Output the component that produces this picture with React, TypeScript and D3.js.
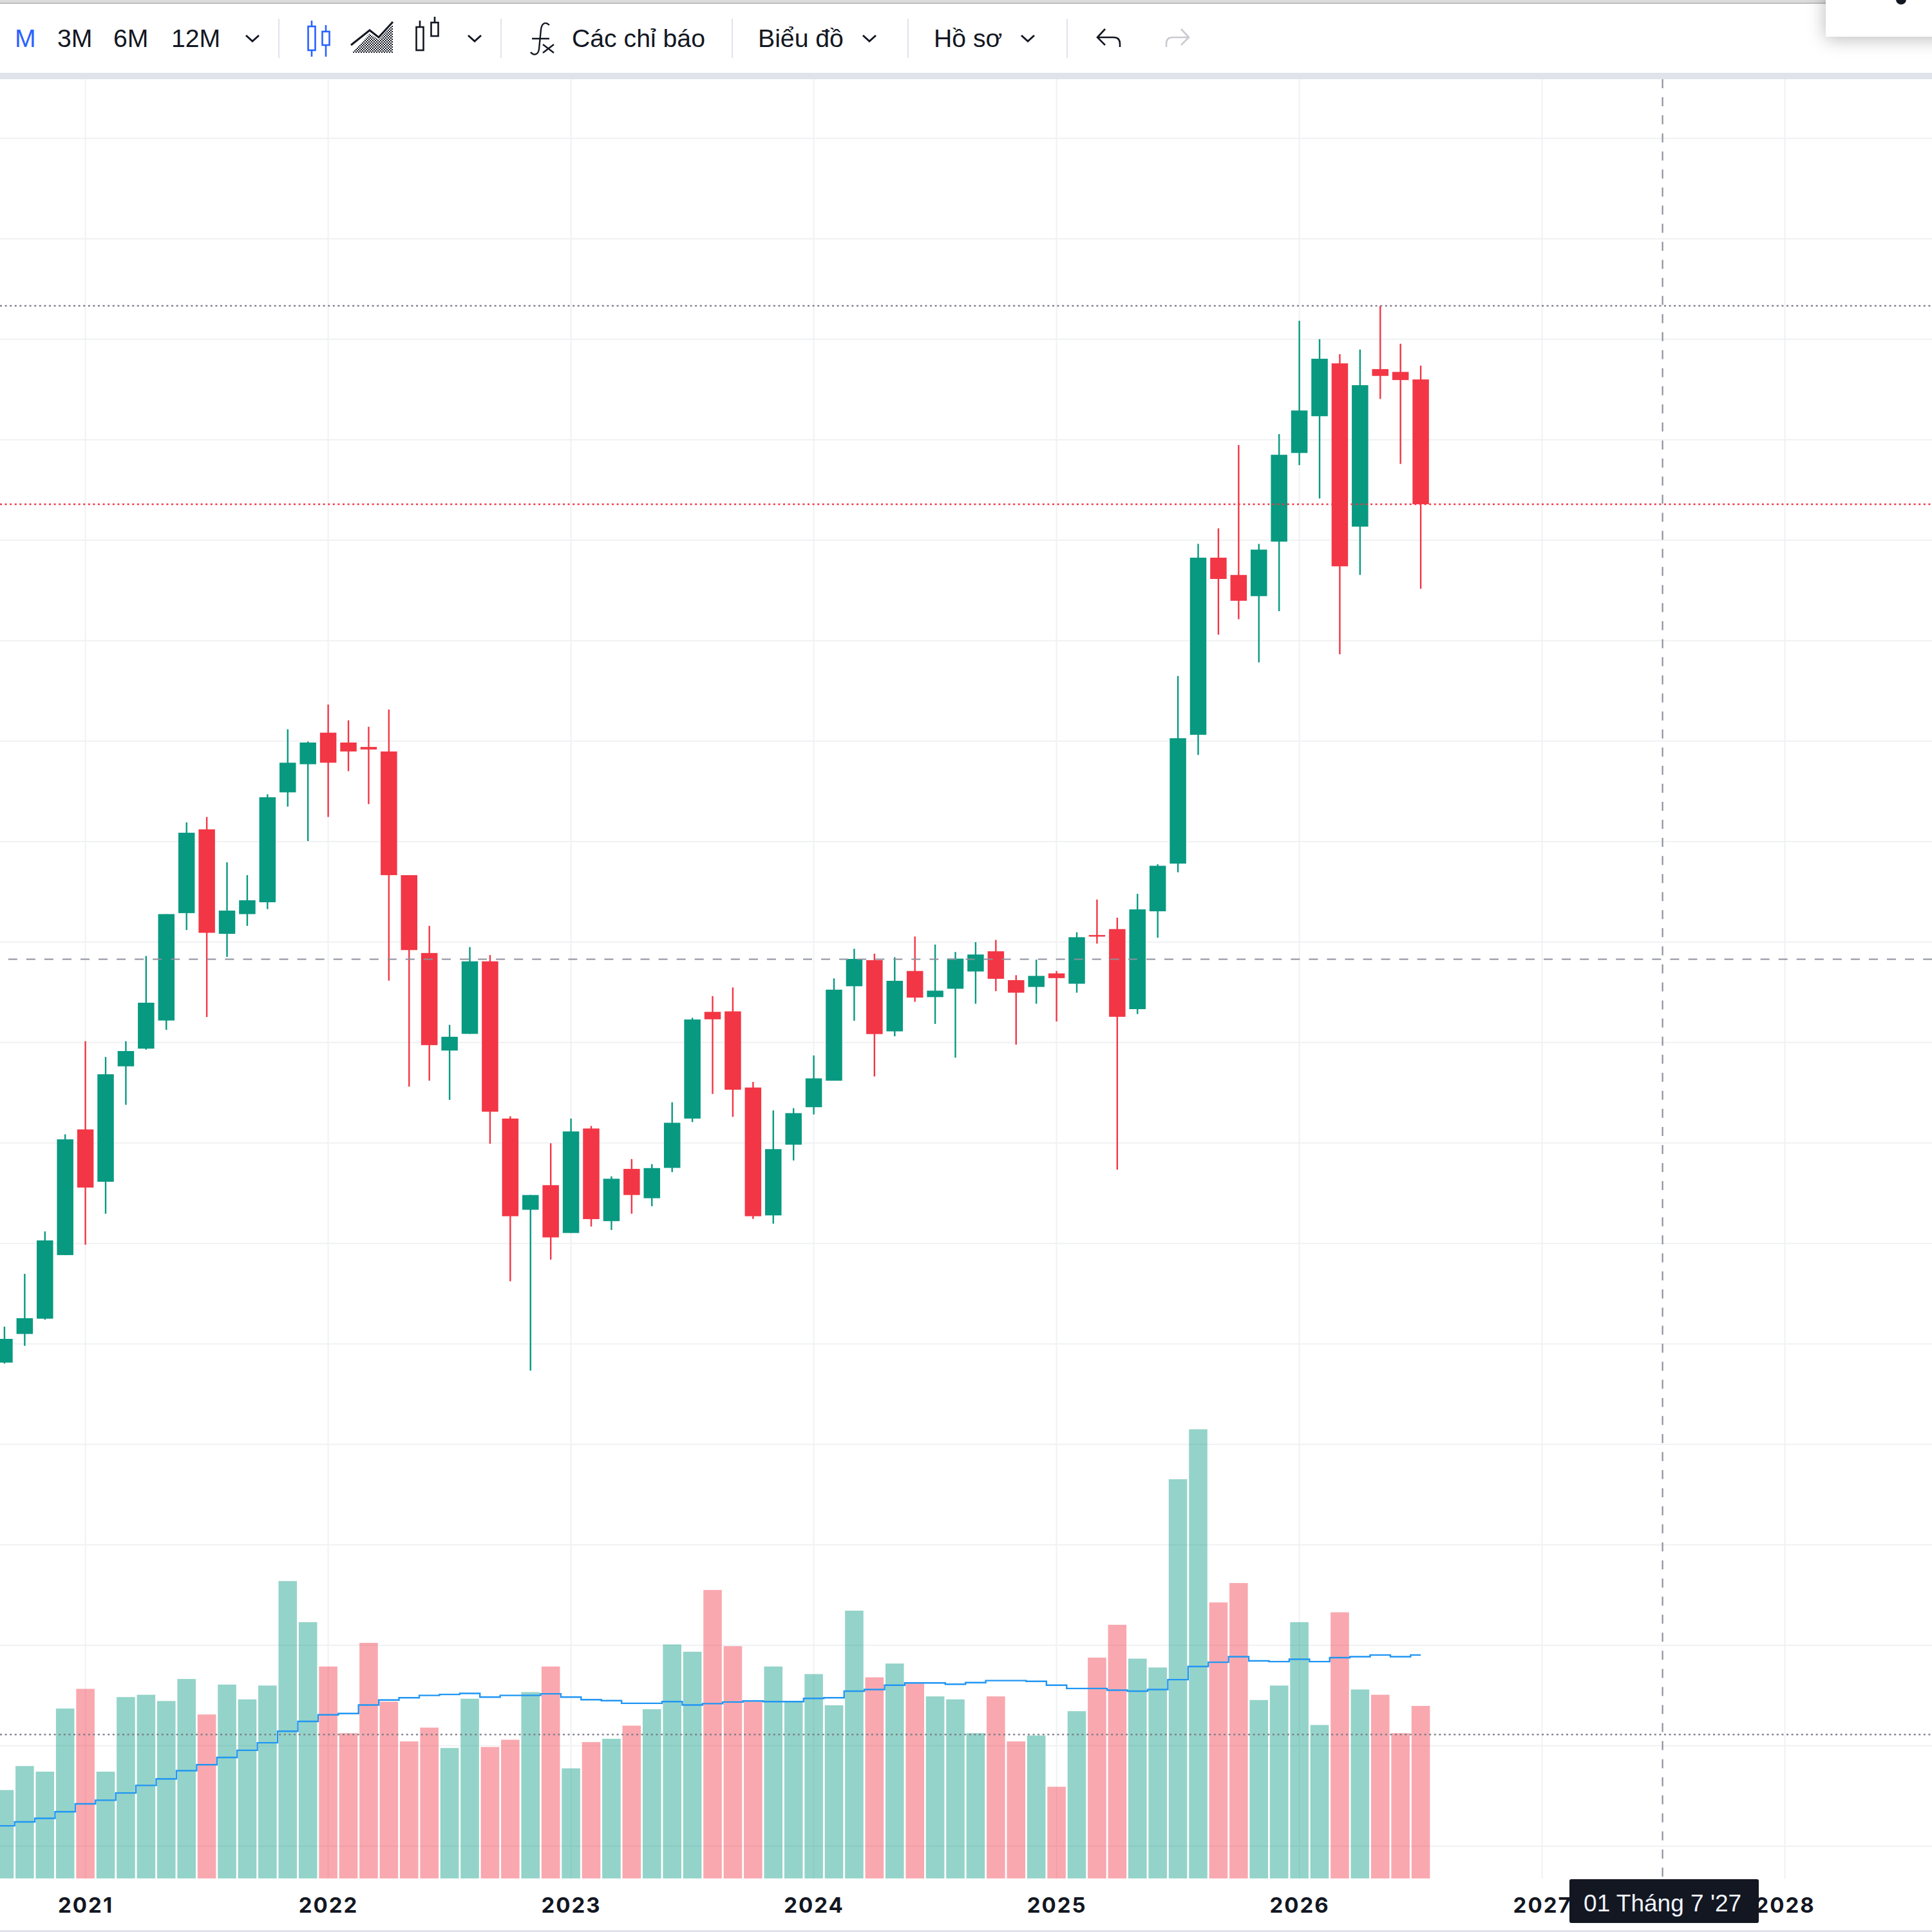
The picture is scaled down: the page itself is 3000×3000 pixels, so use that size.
import { useEffect, useRef } from "react";
import * as d3 from "d3";

// months are counted from Jan 2021 = 0, first bar (Sep 2020) sits just off the left edge
const firstMonth = -5;

const opens = [
  560, 581.4, 609.9, 625.1, 688.4, 813.5, 761.4, 876.3, 893.9, 921.9, 1028.8, 1112.2, 1008.2, 1027.8, 1039.6, 1149, 1177,
  1208.4, 1198.6, 1194.2, 1189.7, 1066.6, 989.1, 892, 908.6, 980.8, 824.3, 733.5, 758,
  710.4, 814.4, 722.2, 774.2, 745, 775.2, 824.3, 930.5, 931, 855.2, 727.9, 798.3,
  835.6, 862, 956, 982, 911.1, 971.2, 945.2, 953.5, 970.7, 990.8, 962.1, 955.3,
  968.8, 958.5, 1007, 1012.9, 933.2, 1030.6, 1078.1, 1206.3, 1382.6, 1365.4, 1344.3, 1398.6,
  1486.8, 1523.4, 1576, 1413.5, 1570.3, 1567.5, 1560,
];
const highs = [
  585, 617.2, 669.7, 711.9, 808.6, 901.3, 885.6, 901.3, 986.1, 1027.8, 1119.1, 1124.5, 1079.4, 1066.6, 1147.1, 1211.8, 1199.6,
  1236.4, 1220.7, 1214.3, 1231.4, 1066.6, 1016.1, 917.5, 995, 987.1, 826.7, 748.2, 799.7,
  824.3, 816.9, 766.8, 784, 778.9, 840.5, 924.6, 946.2, 954.8, 860.8, 832.4, 834.6,
  887.1, 963.8, 993.3, 988.4, 984.9, 1005.5, 997.5, 990.1, 999.9, 1002.1, 967, 982.5,
  971.2, 1009.7, 1042.3, 1024.2, 1048, 1077.4, 1264.7, 1396.3, 1411.8, 1494.8, 1396.3, 1505.7,
  1618.4, 1600.1, 1585.2, 1589.8, 1633.3, 1595.5, 1573.8,
];
const lows = [
  555, 580.4, 598.1, 624.1, 688.4, 698.7, 729.6, 838, 892.9, 912.6, 1012, 925.3, 985.2, 1016.1, 1032.8, 1134.8, 1100.5,
  1124.5, 1170.1, 1137.3, 961.6, 856.1, 862, 842.9, 908.6, 799.2, 662.3, 573.5, 683.9,
  710.4, 716.8, 713.4, 729.6, 737, 771, 820.8, 848.8, 826, 724.4, 719.7, 782.6,
  828.4, 862, 921.7, 866.2, 906.2, 940.5, 918.5, 884.9, 938.6, 951.1, 897.9, 938.6,
  920.9, 949.6, 998.4, 773.5, 928.3, 1004.3, 1069.5, 1186.3, 1305.9, 1321.4, 1278.4, 1329.4,
  1474.7, 1441.5, 1286.4, 1365.4, 1540.6, 1475.9, 1351.7,
];
const closes = [
  580, 605, 625.6, 703, 803.6, 755.6, 868.4, 891.5, 939.6, 1027.8, 1108.8, 1009.2, 1031.3, 1041.6, 1144.1, 1178.5, 1198.6,
  1178.5, 1189.7, 1191.7, 1066.6, 992, 897.4, 905.7, 980.8, 831.1, 727.1, 748.2, 706,
  811.5, 724.2, 764.4, 748.2, 775, 820.1, 922.9, 923.1, 853, 727.1, 793.9, 829.7,
  864.3, 952.6, 983.2, 908.4, 961.4, 944.7, 951.6, 983.5, 987.6, 963.4, 949.6, 966.3,
  964.1, 1004.8, 1006, 925.6, 1032.5, 1075.9, 1202.9, 1382.6, 1361.4, 1339.7, 1390.6, 1485,
  1529.1, 1580.6, 1374, 1554.3, 1563.5, 1559.4, 1435.8,
];
const volumes = [
  240, 269, 342, 325, 517, 577, 325, 552, 559, 540, 607, 499, 590, 545, 587, 905, 780,
  645, 442, 717, 538, 417, 459, 397, 547, 400, 422, 567, 645,
  335, 415, 425, 465, 515, 712, 690, 878, 707, 538, 645, 538,
  622, 527, 815, 612, 654, 593, 554, 545, 442, 554, 417, 435,
  279, 509, 672, 772, 669, 642, 1215, 1367, 840, 899, 543, 587,
  780, 467, 810, 575, 559, 442, 525,
];
const volumeMa = [
  150, 160, 172, 183, 203, 227, 238, 260, 283, 303, 328, 346, 368, 390, 413, 448, 478,
  498, 502, 528, 543, 550, 557, 560, 563, 552, 557, 557, 562,
  552, 544, 541, 533, 533, 538, 528, 532, 537, 540, 538, 538,
  548, 550, 570, 575, 588, 595, 595, 591, 596, 602, 602, 600,
  588, 578, 578, 573, 570, 575, 605, 645, 658, 675, 662, 660,
  667, 660, 672, 675, 680, 675, 680,
];

const years = [2021, 2022, 2023, 2024, 2025, 2026, 2027, 2028];
const priceGrid = d3.range(100, 1801, 100);
const crosshairMonth = 78;
const crosshairPrice = 982.9;
const volumeLevel = 438;

const UP = "#089981";
const DOWN = "#F23645";
const GRID = "#f0f1f3";
const INK = "#131722";
const BLUE = "#2962ff";

const toolbarLabels = [
  { label: "M", x: 23, fill: BLUE },
  { label: "3M", x: 89, fill: INK },
  { label: "6M", x: 176, fill: INK },
  { label: "12M", x: 266, fill: INK },
  { label: "Các chỉ báo", x: 888, fill: INK },
  { label: "Biểu đồ", x: 1177, fill: INK },
  { label: "Hồ sơ", x: 1450, fill: INK },
];
const chevrons = [392, 737, 1350, 1596];
const separators = [433, 778, 1137, 1410, 1657];

function Chevron({ x }: { x: number }) {
  return <path d={`M${x - 10} 55L${x} 64L${x + 10} 55`} fill="none" stroke={INK} strokeWidth={3} />;
}

function CandleIcon({ x, wick, body, color }: { x: number; wick: number[]; body: number[]; color: string }) {
  return (
    <g stroke={color} strokeWidth={2.6} fill="none">
      <path d={`M${x} ${wick[0]}V${body[0]}M${x} ${body[1]}V${wick[1]}`} />
      <rect x={x - 5.5} y={body[0]} width={11} height={body[1] - body[0]} fill="#fff" />
    </g>
  );
}

function Toolbar() {
  return (
    <g fontFamily="'Liberation Sans', Arial, sans-serif" fontSize={39.2}>
      <rect x={0} y={0} width={3000} height={5} fill="#dcdcdc" />
      <rect x={0} y={4} width={3000} height={2} fill="#bdbdbd" />
      <rect x={0} y={113} width={3000} height={10} fill="#e0e3eb" />
      <defs>
        <pattern id="hatch" width={4} height={4} patternUnits="userSpaceOnUse">
          <rect width={2} height={2} fill={INK} />
          <rect x={2} y={2} width={2} height={2} fill={INK} />
        </pattern>
        <filter id="popup-shadow" x="-30%" y="-50%" width="160%" height="250%">
          <feDropShadow dx={0} dy={3} stdDeviation={14} floodColor="#000" floodOpacity={0.28} />
        </filter>
      </defs>
      {toolbarLabels.map((d) => (
        <text key={d.label} x={d.x} y={73} fill={d.fill}>{d.label}</text>
      ))}
      {chevrons.map((x) => <Chevron key={x} x={x} />)}
      {separators.map((x) => (
        <line key={x} x1={x} x2={x} y1={29} y2={90} stroke="#e0e3eb" strokeWidth={2} />
      ))}

      <CandleIcon x={484} wick={[32, 88]} body={[41, 78]} color={BLUE} />
      <CandleIcon x={506} wick={[39, 88]} body={[49, 70]} color={BLUE} />

      <path d="M547 82L574 52L588 62L610 38V82Z" fill="url(#hatch)" />
      <path d="M545 70L574 47L588 58L610 34" fill="none" stroke={INK} strokeWidth={3} />

      <CandleIcon x={652} wick={[32, 79]} body={[42, 78]} color={INK} />
      <CandleIcon x={675} wick={[26, 57]} body={[35, 56]} color={INK} />

      <path
        d="M853 39C847 33 841 36 840 46L837 76C836 85 829 87 824 81M826 60H853M843 69L860 82M860 69L843 82"
        fill="none"
        stroke={INK}
        strokeWidth={2.4}
      />

      <path d="M1716 45L1704 58L1716 70M1704 58H1729C1736 58 1739 62 1739 68V73" fill="none" stroke={INK} strokeWidth={2.6} />
      <path d="M1834 45L1846 58L1834 70M1846 58H1821C1814 58 1811 62 1811 68V73" fill="none" stroke="#c9cbd0" strokeWidth={2.6} />

      <rect x={2835} y={-20} width={200} height={77} fill="#fff" filter="url(#popup-shadow)" />
      <ellipse cx={2952} cy={-1} rx={8} ry={8} fill={INK} />
    </g>
  );
}

export default function App() {
  const chartRef = useRef<SVGGElement | null>(null);

  useEffect(() => {
    const g = d3.select(chartRef.current);
    g.selectAll("*").remove();

    const months = d3.range(firstMonth, firstMonth + closes.length);
    const rows = months.map((month, i) => ({
      month,
      open: opens[i],
      high: highs[i],
      low: lows[i],
      close: closes[i],
      volume: volumes[i],
      ma: volumeMa[i],
    }));

    const x = d3.scaleLinear().domain([0, 84]).range([132.6, 2771.6]);
    const y = d3.scaleLinear().domain([100, 1800]).range([2866.8, 214.8]);
    const yVol = d3.scaleLinear().domain([0, 1405]).range([2916.8, 2200]);
    const bodyW = 25.5;
    const volW = 28.6;
    const color = (d: any) => (d.close >= d.open ? UP : DOWN);

    // grid
    g.append("g")
      .selectAll("line")
      .data(priceGrid)
      .join("line")
      .attr("x1", 0)
      .attr("x2", 3000)
      .attr("y1", (d) => y(d))
      .attr("y2", (d) => y(d))
      .attr("stroke", GRID)
      .attr("stroke-width", 2);
    g.append("g")
      .selectAll("line")
      .data(years)
      .join("line")
      .attr("x1", (d) => x((d - 2021) * 12))
      .attr("x2", (d) => x((d - 2021) * 12))
      .attr("y1", 123)
      .attr("y2", 2917)
      .attr("stroke", GRID)
      .attr("stroke-width", 2);

    // volume
    g.append("g")
      .selectAll("rect")
      .data(rows)
      .join("rect")
      .attr("x", (d) => x(d.month) - volW / 2)
      .attr("width", volW)
      .attr("y", (d) => yVol(d.volume))
      .attr("height", (d) => yVol(0) - yVol(d.volume))
      .attr("fill", color)
      .attr("fill-opacity", 0.43);

    const maLine = d3
      .line<any>()
      .x((d) => x(d.month))
      .y((d) => yVol(d.ma))
      .curve(d3.curveStep);
    g.append("path")
      .attr("d", maLine(rows))
      .attr("fill", "none")
      .attr("stroke", "#2196f3")
      .attr("stroke-width", 2.4);

    // candles
    const candles = g.append("g").selectAll("g").data(rows).join("g");
    candles
      .append("line")
      .attr("x1", (d) => x(d.month))
      .attr("x2", (d) => x(d.month))
      .attr("y1", (d) => y(d.high))
      .attr("y2", (d) => y(d.low))
      .attr("stroke", color)
      .attr("stroke-width", 2.4);
    candles
      .append("rect")
      .attr("x", (d) => x(d.month) - bodyW / 2)
      .attr("width", bodyW)
      .attr("y", (d) => y(Math.max(d.open, d.close)))
      .attr("height", (d) => Math.max(y(Math.min(d.open, d.close)) - y(Math.max(d.open, d.close)), 2.5))
      .attr("fill", color);

    // high, last price and volume level lines
    const levels = [
      { y: y(d3.max(highs) as number), stroke: "#787b86" },
      { y: y(closes[closes.length - 1]), stroke: DOWN },
      { y: yVol(volumeLevel), stroke: "#787b86" },
    ];
    g.append("g")
      .selectAll("line")
      .data(levels)
      .join("line")
      .attr("x1", 0)
      .attr("x2", 3000)
      .attr("y1", (d) => d.y)
      .attr("y2", (d) => d.y)
      .attr("stroke", (d) => d.stroke)
      .attr("stroke-width", 2.4)
      .attr("stroke-dasharray", "3 4.6");

    // crosshair
    g.append("line")
      .attr("x1", 12.8)
      .attr("x2", 3000)
      .attr("y1", y(crosshairPrice))
      .attr("y2", y(crosshairPrice))
      .attr("stroke", "#8d909b")
      .attr("stroke-width", 2.2)
      .attr("stroke-dasharray", "14 14.05");
    g.append("line")
      .attr("x1", x(crosshairMonth) - 1.5)
      .attr("x2", x(crosshairMonth) - 1.5)
      .attr("y1", 123)
      .attr("y2", 2918)
      .attr("stroke", "#8d909b")
      .attr("stroke-width", 2.2)
      .attr("stroke-dasharray", "14 14.05");

    // time axis
    const axis = d3
      .axisBottom(x)
      .tickValues(years.map((d) => (d - 2021) * 12))
      .tickFormat((d) => String(2021 + +d / 12))
      .tickSize(0);
    const axisG = g.append("g").attr("transform", "translate(0,2917)").call(axis);
    axisG.select(".domain").remove();
    axisG
      .selectAll("text")
      .attr("y", 0)
      .attr("dy", 53)
      .attr("fill", INK)
      .attr("font-family", "Inter, sans-serif")
      .attr("font-weight", 700)
      .attr("font-size", 33)
      .attr("letter-spacing", 2);

    g.append("rect")
      .attr("x", 2437)
      .attr("y", 2918)
      .attr("width", 294)
      .attr("height", 68)
      .attr("rx", 3)
      .attr("fill", INK);
    g.append("text")
      .attr("x", x(crosshairMonth) - 1.5)
      .attr("y", 2968)
      .attr("text-anchor", "middle")
      .attr("fill", "#f0f3fa")
      .attr("font-family", "'Liberation Sans', Arial, sans-serif")
      .attr("font-size", 37)
      .text("01 Tháng 7 '27");
  }, []);

  return (
    <svg
      width={3000}
      height={3000}
      viewBox="0 0 3000 3000"
      style={{ position: "absolute", left: 0, top: 0, background: "#fff" }}
    >
      <g ref={chartRef} />
      <rect x={0} y={2997} width={3000} height={3} fill="#e0e3eb" />
      <Toolbar />
    </svg>
  );
}
